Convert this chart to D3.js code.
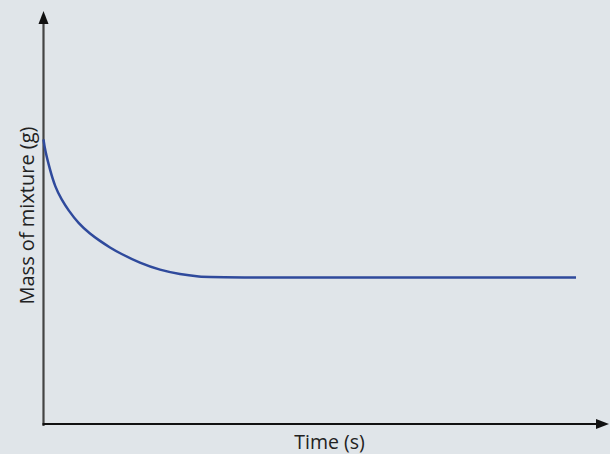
<!DOCTYPE html>
<html><head><meta charset="utf-8">
<script src="https://cdn.jsdelivr.net/npm/d3@7"></script>
<style>
html,body{margin:0;padding:0;background:#e0e5e9;}
svg{display:block;}
</style></head>
<body>
<script>
// Time (arbitrary units) and mass (arbitrary units)
const times  = [0, 0.28, 1.22, 2.16, 3.42, 4.66, 6.54, 8.73, 10.61, 12.49, 14.37, 18.1, 21.9, 25.6, 29.4, 31.8, 100];
const masses = [94.9, 91.3, 84.7, 79.1, 74.7, 71.3, 66.9, 63.4, 61.0, 58.8, 56.9, 53.6, 51.3, 49.9, 49.1, 48.8, 48.8];
const xLabel = "Time (s)";
const yLabel = "Mass of mixture (g)";

const W = 610, H = 454;
const svg = d3.select("body").append("svg").attr("width", W).attr("height", H);
svg.append("rect").attr("width", W).attr("height", H).attr("fill", "#e0e5e9");

const x = d3.scaleLinear().domain([0, 100]).range([43.5, 576]);
const y = d3.scaleLinear().domain([0, 100]).range([424, 124]);

const data = times.map((t, i) => ({t, m: masses[i]}));

// axes
const x0 = x(0), y0 = y(0);
svg.append("line").attr("x1", x0).attr("x2", x0).attr("y1", y0 + 2).attr("y2", 20)
  .attr("stroke", "#444").attr("stroke-width", 2.2);
svg.append("path").attr("d", `M${x0},11 L${x0-5},24 L${x0+5},24 Z`).attr("fill", "#111");
svg.append("line").attr("x1", x0 - 1).attr("x2", 600).attr("y1", y0).attr("y2", y0)
  .attr("stroke", "#111").attr("stroke-width", 2);
svg.append("path").attr("d", `M609,${y0} L596,${y0-5} L596,${y0+5} Z`).attr("fill", "#111");

// curve
const line = d3.line().x(d => x(d.t)).y(d => y(d.m)).curve(d3.curveBasis);
svg.append("path").datum(data).attr("d", line)
  .attr("fill", "none").attr("stroke", "#2f4a9c").attr("stroke-width", 2.5);

// labels
svg.append("text").attr("x", 329.5).attr("y", 448.5).attr("text-anchor", "middle")
  .attr("font-family", "Open Sans, sans-serif").attr("font-size", 19.5).attr("fill", "#222")
  .text(xLabel);

svg.append("text").attr("transform", "translate(33.5,215.5) rotate(-90)").attr("text-anchor", "middle")
  .attr("font-family", "Open Sans, sans-serif").attr("font-size", 20).attr("fill", "#222")
  .text(yLabel);
</script>
</body></html>
